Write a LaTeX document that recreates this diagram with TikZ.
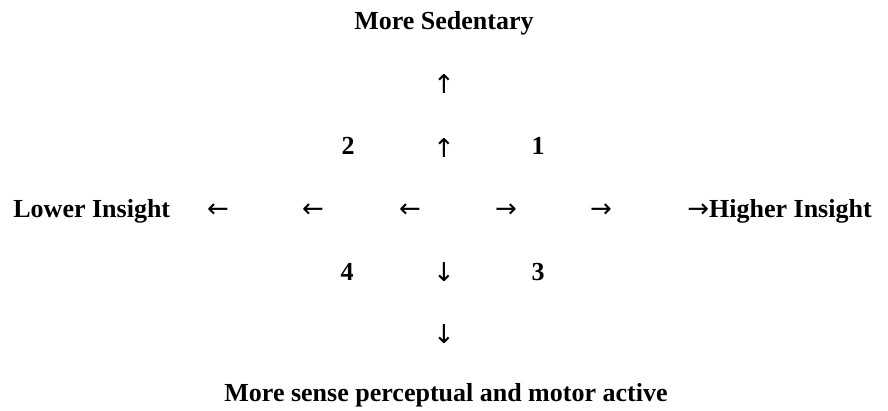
\documentclass[tikz,border=0pt]{standalone}
\usepackage{fontspec}
\setmainfont{Liberation Serif}
\newfontfamily\arrfont{DejaVu Sans}
\begin{document}
\begin{tikzpicture}[x=0.5pt,y=-0.5pt,
  lbl/.style={font=\bfseries\fontsize{13}{15}\selectfont,inner sep=0pt,anchor=base},
  arr/.style={font=\arrfont\fontsize{13}{15}\selectfont,inner sep=0pt}]
\useasboundingbox (0,0) rectangle (888,411);
\node[lbl] (sed) at (444,30) {More Sedentary};
\node[lbl] (act) at (446,401) {More sense perceptual and motor active};
\node[lbl,anchor=base west] (low) at (13,218) {Lower Insight};
\node[lbl,anchor=base west] (high) at (687,218) {{\arrfont\mdseries →}Higher Insight};
% quadrant numbers
\node[lbl] (q1) at (538,155) {1};
\node[lbl] (q2) at (348,155) {2};
\node[lbl] (q3) at (538,280) {3};
\node[lbl] (q4) at (347,280) {4};
\foreach \yy [count=\i] in {84,148} {\node[arr] (up\i) at (444,\yy) {↑};}
\foreach \yy [count=\i] in {272,334} {\node[arr] (dn\i) at (444,\yy) {↓};}
\foreach \xx [count=\i] in {218,313,410} {\node[arr] (lt\i) at (\xx,211) {←};}
\foreach \xx [count=\i] in {506,601} {\node[arr] (rt\i) at (\xx,211) {→};}
\end{tikzpicture}
\end{document}
